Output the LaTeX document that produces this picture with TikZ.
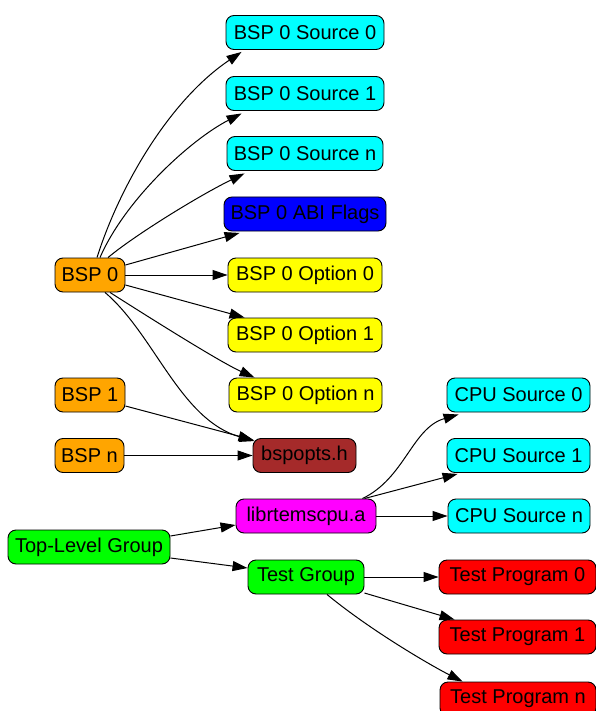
\documentclass[tikz,border=0pt]{standalone}
\usepackage{fontspec}
\setmainfont{Liberation Sans}
\usetikzlibrary{arrows.meta}
\definecolor{gvcyan}{RGB}{0,255,255}
\definecolor{gvblue}{RGB}{0,0,255}
\definecolor{gvyellow}{RGB}{255,255,0}
\definecolor{gvorange}{RGB}{255,165,0}
\definecolor{gvbrown}{RGB}{165,42,42}
\definecolor{gvmagenta}{RGB}{255,0,255}
\definecolor{gvgreen}{RGB}{0,255,0}
\definecolor{gvred}{RGB}{255,0,0}
\begin{document}
\begin{tikzpicture}[x=1pt,y=-1pt,
  box/.style={draw=black, line width=0.9pt, rounded corners=8pt, minimum height=34pt,
    inner xsep=3pt, inner ysep=0pt, font=\fontsize{20}{24}\selectfont, text=black},
  edge/.style={draw=black, line width=1pt, -{Triangle[length=15pt,width=10pt]}}]
\useasboundingbox (0,0) rectangle (595,711);
% nodes
\node[box, fill=gvcyan, minimum width=158pt] (src0) at (305,32.5) {BSP 0 Source 0};
\node[box, fill=gvcyan, minimum width=158pt] (src1) at (305,93.5) {BSP 0 Source 1};
\node[box, fill=gvcyan, minimum width=156pt] (srcn) at (305,153.5) {BSP 0 Source n};
\node[box, fill=gvblue, minimum width=162pt] (abi) at (305,214) {BSP 0 ABI Flags};
\node[box, fill=gvyellow, minimum width=154pt] (opt0) at (305,275) {BSP 0 Option 0};
\node[box, fill=gvyellow, minimum width=154pt] (opt1) at (305,335) {BSP 0 Option 1};
\node[box, fill=gvyellow, minimum width=153pt] (optn) at (305.5,395) {BSP 0 Option n};
\node[box, fill=gvorange, minimum width=70pt] (bsp0) at (90,275) {BSP 0};
\node[box, fill=gvorange, minimum width=70pt] (bsp1) at (90,395) {BSP 1};
\node[box, fill=gvorange, minimum width=69pt] (bspn) at (89.5,455.5) {BSP n};
\node[box, fill=gvbrown, minimum width=103pt] (bspopts) at (304.5,455.5) {bspopts.h};
\node[box, fill=gvcyan, minimum width=143pt] (cpu0) at (518.5,395) {CPU Source 0};
\node[box, fill=gvcyan, minimum width=143pt] (cpu1) at (518.5,455.5) {CPU Source 1};
\node[box, fill=gvcyan, minimum width=142pt] (cpun) at (519,516) {CPU Source n};
\node[box, fill=gvmagenta, minimum width=140pt] (lib) at (306,516) {librtemscpu.a};
\node[box, fill=gvgreen, minimum width=162pt] (top) at (89,547) {Top-Level Group};
\node[box, fill=gvgreen, minimum width=116pt] (tg) at (306,577) {Test Group};
\node[box, fill=gvred, minimum width=157pt] (tp0) at (517.5,577) {Test Program 0};
\node[box, fill=gvred, minimum width=157pt] (tp1) at (517.5,637) {Test Program 1};
\node[box, fill=gvred, minimum width=156pt] (tpn) at (518,699) {Test Program n};
% edges from BSP 0
\draw[edge] ([shift={(7,0)}]bsp0.north) .. controls (120,185) and (170,100) .. ([shift={(16,2)}]src0.south west);
\draw[edge] ([shift={(10,0)}]bsp0.north) .. controls (125,200) and (190,140) .. ([shift={(16,2.5)}]src1.south west);
\draw[edge] ([shift={(18,0)}]bsp0.north) .. controls (135,235) and (200,195) .. ([shift={(18,2.5)}]srcn.south west);
\draw[edge] ([shift={(0,-10)}]bsp0.east) -- ([shift={(16,1.5)}]abi.south west);
\draw[edge] (bsp0.east) -- (opt0.west);
\draw[edge] ([shift={(0,10)}]bsp0.east) -- ([shift={(17,0)}]opt1.north west);
\draw[edge] ([shift={(20,0)}]bsp0.south) .. controls (150,318) and (220,362) .. ([shift={(26,0)}]optn.north west);
\draw[edge] ([shift={(15,0)}]bsp0.south) .. controls (155,335) and (180,420) .. ([shift={(2,3)}]bspopts.north west);
% other BSPs
\draw[edge] ([shift={(0,11)}]bsp1.east) -- ([shift={(1,2)}]bspopts.north west);
\draw[edge] (bspn.east) -- (bspopts.west);
% top-level
\draw[edge] ([shift={(0,-11)}]top.east) -- ([shift={(0,9)}]lib.west);
\draw[edge] ([shift={(0,11)}]top.east) -- ([shift={(0,-9)}]tg.west);
% librtemscpu
\draw[edge] ([shift={(-14,0)}]lib.north east) .. controls (405,478) and (412,428) .. ([shift={(12,2)}]cpu0.south west);
\draw[edge] ([shift={(-12,0)}]lib.north east) -- ([shift={(11,1)}]cpu1.south west);
\draw[edge] (lib.east) -- (cpun.west);
% test group
\draw[edge] (tg.east) -- (tp0.west);
\draw[edge] ([shift={(0,16)}]tg.east) -- ([shift={(16,0)}]tp1.north west);
\draw[edge] ([shift={(21,0)}]tg.south) .. controls (370,630) and (430,665) .. ([shift={(23,0)}]tpn.north west);
\end{tikzpicture}
\end{document}
